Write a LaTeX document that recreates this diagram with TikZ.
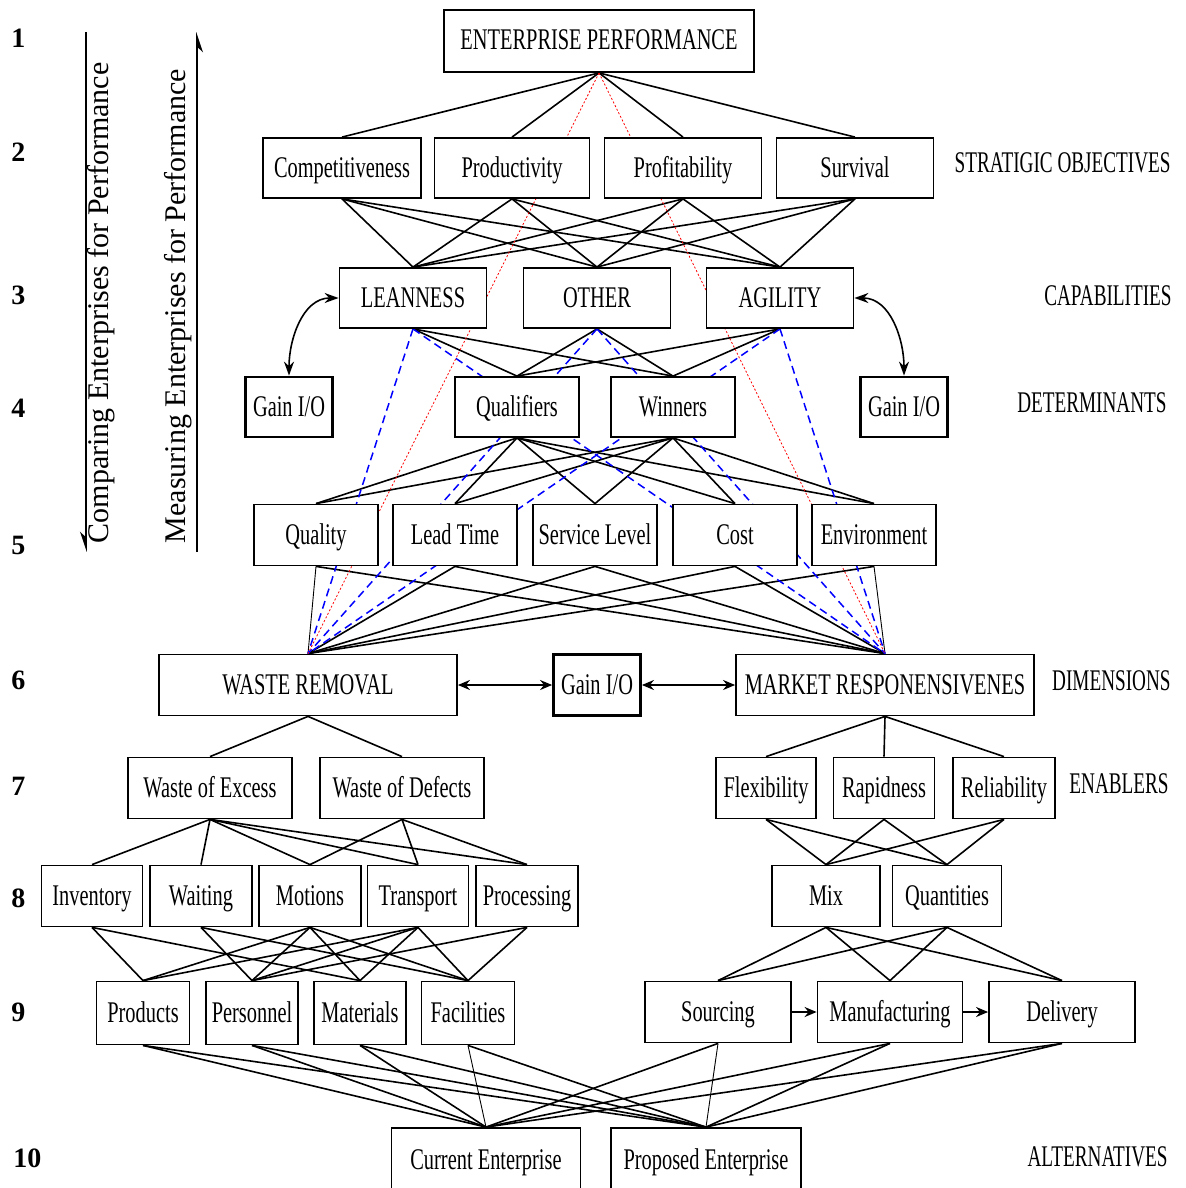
\documentclass[tikz,border=0pt]{standalone}
\usepackage{fontspec}
\setmainfont{Liberation Serif}[FakeStretch=0.68]
\newfontfamily\plainserif{Liberation Serif}
\newfontfamily\sidefont{Liberation Serif}[FakeStretch=0.64]
\usetikzlibrary{arrows.meta,backgrounds}
\begin{document}
\begin{tikzpicture}[x=0.5pt,y=-0.5pt,
  box/.style={draw, fill=white, line width=0.9pt, inner sep=0pt, minimum height=30pt, text height=11pt, text depth=2pt, font=\fontsize{15}{18}\selectfont},
  gbox/.style={box, line width=1.4pt},
  conn/.style={line width=0.8pt},
  thinconn/.style={line width=0.45pt},
  bluedash/.style={blue, line width=0.75pt, dash pattern=on 4pt off 2.5pt},
  reddot/.style={red, line width=0.4pt, dash pattern=on 1pt off 1pt},
  lvl/.style={font=\plainserif\bfseries\fontsize{14}{17}\selectfont, anchor=west, inner sep=0pt},
  side/.style={font=\sidefont\fontsize{15}{18}\selectfont, anchor=east, inner sep=0pt},
  rottext/.style={rotate=90, font=\plainserif\fontsize{15}{18}\selectfont, inner sep=0pt},
]
\useasboundingbox (0,0) rectangle (1185,1188);

% level numbers
\node[lvl] (n1) at (11,38) {1};
\node[lvl] (n2) at (11,152) {2};
\node[lvl] (n3) at (11,295) {3};
\node[lvl] (n4) at (11,408) {4};
\node[lvl] (n5) at (11,545) {5};
\node[lvl] (n6) at (11,680) {6};
\node[lvl] (n7) at (11,786) {7};
\node[lvl] (n8) at (11,898) {8};
\node[lvl] (n9) at (11,1012) {9};
\node[lvl] (n10) at (13,1158) {10};

% side labels
\node[side] (s2) at (1171,163) {STRATIGIC OBJECTIVES};
\node[side] (s3) at (1172,296) {CAPABILITIES};
\node[side] (s4) at (1167,403) {DETERMINANTS};
\node[side] (s6) at (1171,681) {DIMENSIONS};
\node[side] (s7) at (1169,784) {ENABLERS};
\node[side] (s10) at (1168,1157) {ALTERNATIVES};

% vertical arrows and texts
\coordinate (a1s) at (86,32);
\coordinate (a1e) at (86,552);
\coordinate (a2s) at (197,552);
\coordinate (a2e) at (197,32);
\draw[line width=0.8pt, -{Stealth[harpoon,swap,length=9pt,width=6pt]}] (a1s) -- (a1e);
\draw[line width=0.8pt, -{Stealth[harpoon,swap,length=9pt,width=6pt]}] (a2s) -- (a2e);
\node[rottext] (cmp) at (101,303) {Comparing Enterprises for Performance};
\node[rottext] (msr) at (178,306) {Measuring Enterprises for Performance};

% level 1
\node[box, minimum width=155pt, minimum height=31pt] (ep) at (599,41) {ENTERPRISE PERFORMANCE};
% level 2
\node[box, minimum width=79pt] (comp) at (342,168) {Competitiveness};
\node[box, minimum width=77.5pt] (prod) at (512,168) {Productivity};
\node[box, minimum width=78.5pt] (prof) at (683,168) {Profitability};
\node[box, minimum width=78.5pt] (surv) at (855,168) {Survival};
% level 3
\node[box, minimum width=73.5pt] (lean) at (413,298) {LEANNESS};
\node[box, minimum width=73.5pt] (other) at (597,298) {OTHER};
\node[box, minimum width=73.5pt] (agil) at (780,298) {AGILITY};
% level 4
\node[gbox, minimum width=43.5pt] (gainl) at (289,407) {Gain I/O};
\node[box, minimum width=62pt] (qual) at (517,407) {Qualifiers};
\node[box, minimum width=62pt] (win) at (673,407) {Winners};
\node[gbox, minimum width=43.5pt] (gainr) at (904,407) {Gain I/O};
% level 5
\node[box, minimum width=62pt, minimum height=30.5pt] (quality) at (316,535) {Quality};
\node[box, minimum width=62pt, minimum height=30.5pt] (lead) at (455,535) {Lead Time};
\node[box, minimum width=62pt, minimum height=30.5pt] (serv) at (595,535) {Service Level};
\node[box, minimum width=62pt, minimum height=30.5pt] (cost) at (735,535) {Cost};
\node[box, minimum width=62pt, minimum height=30.5pt] (env) at (874,535) {Environment};
% level 6
\node[box, minimum width=149pt, minimum height=30.5pt] (wr) at (308,685) {WASTE REMOVAL};
\node[gbox, minimum width=43.5pt, minimum height=30.5pt] (gainm) at (597,685) {Gain I/O};
\node[box, minimum width=149pt, minimum height=30.5pt] (mr) at (885,685) {MARKET RESPONENSIVENES};
% level 7
\node[box, minimum width=82pt, minimum height=30.5pt] (woe) at (210,788) {Waste of Excess};
\node[box, minimum width=82pt, minimum height=30.5pt] (wod) at (402,788) {Waste of Defects};
\node[box, minimum width=50pt, minimum height=30.5pt] (flex) at (766,788) {Flexibility};
\node[box, minimum width=50.5pt, minimum height=30.5pt] (rap) at (884,788) {Rapidness};
\node[box, minimum width=51pt, minimum height=30.5pt] (rel) at (1004,788) {Reliability};
% level 8
\node[box, minimum width=50.5pt, minimum height=30.5pt] (inv) at (92,896) {Inventory};
\node[box, minimum width=51pt, minimum height=30.5pt] (wait) at (201,896) {Waiting};
\node[box, minimum width=51pt, minimum height=30.5pt] (mot) at (310,896) {Motions};
\node[box, minimum width=50.5pt, minimum height=30.5pt] (trans) at (418,896) {Transport};
\node[box, minimum width=51pt, minimum height=30.5pt] (proc) at (527,896) {Processing};
\node[box, minimum width=54pt, minimum height=30.5pt] (mix) at (826,896) {Mix};
\node[box, minimum width=54.5pt, minimum height=30.5pt] (quan) at (947,896) {Quantities};
% level 9
\node[box, minimum width=46.5pt, minimum height=31.5pt] (prodt) at (143,1013) {Products};
\node[box, minimum width=46pt, minimum height=31.5pt] (pers) at (252,1013) {Personnel};
\node[box, minimum width=46pt, minimum height=31.5pt] (mat) at (360,1013) {Materials};
\node[box, minimum width=46.5pt, minimum height=31.5pt] (fac) at (468,1013) {Facilities};
\node[box, minimum width=73pt, minimum height=30.5pt] (src) at (718,1012) {Sourcing};
\node[box, minimum width=72.5pt, minimum height=30.5pt] (man) at (890,1012) {Manufacturing};
\node[box, minimum width=73pt, minimum height=30.5pt] (del) at (1062,1012) {Delivery};
% level 10
\node[box, minimum width=94.5pt, minimum height=32pt] (cur) at (486,1160) {Current Enterprise};
\node[box, minimum width=95pt, minimum height=32pt] (prop) at (706,1160) {Proposed Enterprise};

% arrows
\draw[line width=0.8pt, {Stealth[length=7pt,width=5pt]}-{Stealth[length=7pt,width=5pt]}] (lean.west) to[out=180,in=90] (gainl.north);
\draw[line width=0.8pt, {Stealth[length=7pt,width=5pt]}-{Stealth[length=7pt,width=5pt]}] (agil.east) to[out=0,in=90] (gainr.north);
\draw[line width=0.8pt, {Stealth[length=6pt,width=5pt]}-{Stealth[length=6pt,width=5pt]}] (wr.east) -- (gainm.west);
\draw[line width=0.8pt, {Stealth[length=6pt,width=5pt]}-{Stealth[length=6pt,width=5pt]}] (gainm.east) -- (mr.west);
\draw[line width=1.3pt, -{Stealth[length=6pt,width=5pt]}] (src.east) -- (man.west);
\draw[line width=1.3pt, -{Stealth[length=6pt,width=5pt]}] (man.east) -- (del.west);

\begin{scope}[on background layer]
  \foreach \t in {comp,prod,prof,surv} \draw[conn] (ep.south) -- (\t.north);
  \foreach \s in {comp,prod,prof,surv} \foreach \t in {lean,other,agil} \draw[conn] (\s.south) -- (\t.north);
  \foreach \s in {lean,other,agil} \foreach \t in {qual,win} \draw[conn] (\s.south) -- (\t.north);
  \foreach \s in {qual,win} \foreach \t in {quality,lead,serv,cost,env} \draw[conn] (\s.south) -- (\t.north);
  \foreach \s in {lead,serv,cost} \foreach \t in {wr,mr} \draw[conn] (\s.south) -- (\t.north);
  \draw[thinconn] (quality.south) -- (wr.north);
  \draw[conn] (quality.south) -- (mr.north);
  \draw[conn] (env.south) -- (wr.north);
  \draw[thinconn] (env.south) -- (mr.north);
  \foreach \t in {woe,wod} \draw[conn] (wr.south) -- (\t.north);
  \foreach \t in {flex,rap,rel} \draw[conn] (mr.south) -- (\t.north);
  \foreach \t in {inv,wait,mot,trans,proc} \draw[conn] (woe.south) -- (\t.north);
  \foreach \t in {mot,trans,proc} \draw[conn] (wod.south) -- (\t.north);
  \foreach \s in {flex,rap,rel} \foreach \t in {mix,quan} \draw[conn] (\s.south) -- (\t.north);
  \foreach \t in {prodt,mat} \draw[conn] (inv.south) -- (\t.north);
  \foreach \t in {pers,fac} \draw[conn] (wait.south) -- (\t.north);
  \foreach \s in {mot,trans} \foreach \t in {prodt,pers,mat,fac} \draw[conn] (\s.south) -- (\t.north);
  \foreach \t in {pers,fac} \draw[conn] (proc.south) -- (\t.north);
  \foreach \s in {mix,quan} \foreach \t in {src,man,del} \draw[conn] (\s.south) -- (\t.north);
  \foreach \s in {prodt,pers,mat,man,del} \foreach \t in {cur,prop} \draw[conn] (\s.south) -- (\t.north);
  \draw[thinconn] (fac.south) -- (cur.north);
  \draw[conn] (fac.south) -- (prop.north);
  \draw[conn] (src.south) -- (cur.north);
  \draw[thinconn] (src.south) -- (prop.north);
  \foreach \s in {lean,other,agil} \foreach \t in {wr,mr} \draw[bluedash] (\s.south) -- (\t.north);
  \draw[reddot] (ep.south) -- (wr.north);
  \draw[reddot] (ep.south) -- (mr.north);
\end{scope}
\end{tikzpicture}
\end{document}
